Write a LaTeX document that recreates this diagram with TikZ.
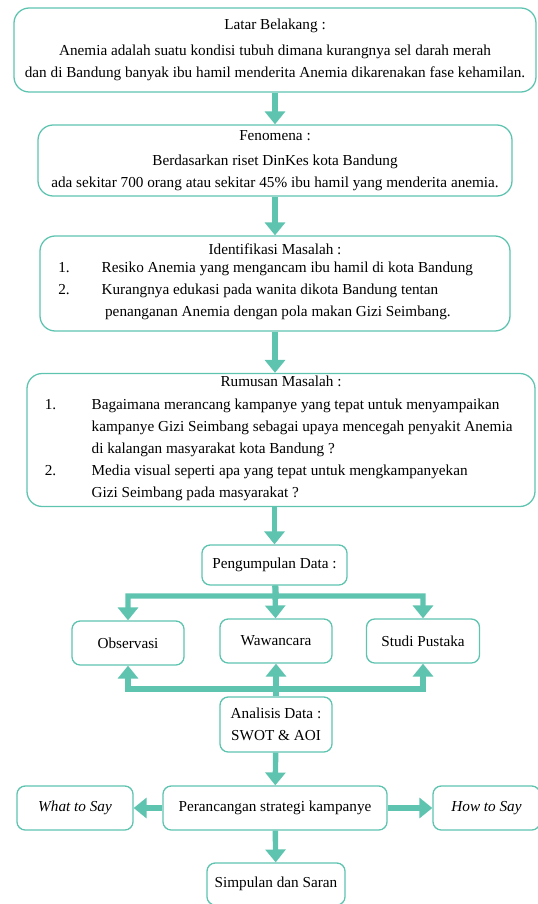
\documentclass[tikz,border=0pt]{standalone}
\usepackage{fontspec}
\setmainfont{Liberation Serif}
\usetikzlibrary{arrows.meta}
\definecolor{tosca}{RGB}{94,196,176}
\tikzset{
  box/.style={draw=tosca, line width=1.1pt, rounded corners=13pt, align=center, inner sep=0pt,
    font=\fontsize{13}{18.8}\selectfont},
  sbox/.style={box, rounded corners=7pt},
  arr/.style={draw=tosca, line width=4.6pt, -{Triangle[width=17pt,length=11pt]}},
}
\begin{document}
\begin{tikzpicture}[x=0.03cm,y=-0.03cm]
\useasboundingbox (0,0) rectangle (538,904);
\node[box, minimum width=15.66cm, minimum height=2.52cm] (v0) at (275,50) {Latar Belakang :\\[3pt]
Anemia adalah suatu kondisi tubuh dimana kurangnya sel darah merah\\
dan di Bandung banyak ibu hamil menderita Anemia dikarenakan fase kehamilan.};
\node[box, minimum width=14.22cm, minimum height=2.13cm] (v1) at (275,160.5) {Fenomena :\\[3pt]
Berdasarkan riset DinKes kota Bandung\\
ada sekitar 700 orang atau sekitar 45\% ibu hamil yang menderita anemia.};
\node[box, minimum width=14.1cm, minimum height=2.85cm] (v2) at (275,283.5) {Identifikasi Masalah :\\[1pt]
\begin{tabular}{@{}p{37pt}@{}l@{}}
1. & Resiko Anemia yang mengancam ibu hamil di kota Bandung\\
2. & Kurangnya edukasi pada wanita dikota Bandung tentan\\
 & \hspace{3pt}penanganan Anemia dengan pola makan Gizi Seimbang.
\end{tabular}\hspace*{16pt}};
\node[box, minimum width=15.24cm, minimum height=3.99cm] (v3) at (281,440) {Rumusan Masalah :\\[6pt]
\begin{tabular}{@{}p{40pt}@{}l@{}}
1. & Bagaimana merancang kampanye yang tepat untuk menyampaikan\\
 & kampanye Gizi Seimbang sebagai upaya mencegah penyakit Anemia\\
 & di kalangan masyarakat kota Bandung ?\\
2. & Media visual seperti apa yang tepat untuk mengkampanyekan\\
 & Gizi Seimbang pada masyarakat ?
\end{tabular}\hspace*{4pt}};
\node[sbox, minimum width=4.35cm, minimum height=1.2cm] (v4) at (274.5,565) {Pengumpulan Data :};
\node[sbox, minimum width=3.36cm, minimum height=1.32cm] (v5) at (128,643) {Observasi};
\node[sbox, minimum width=3.36cm, minimum height=1.32cm] (v6) at (276,641) {Wawancara};
\node[sbox, minimum width=3.39cm, minimum height=1.32cm] (v7) at (423,641) {Studi Pustaka};
\node[sbox, minimum width=3.36cm, minimum height=1.65cm] (v8) at (276,724.5) {Analisis Data :\\SWOT \& AOI};
\node[sbox, minimum width=6.72cm, minimum height=1.32cm] (v9) at (275,808) {Perancangan strategi kampanye};
\node[sbox, minimum width=3.48cm, minimum height=1.32cm] (v10) at (75,808) {\itshape What to Say};
\node[sbox, minimum width=3.21cm, minimum height=1.32cm] (v11) at (486.5,808) {\itshape How to Say};
\node[sbox, minimum width=4.14cm, minimum height=1.26cm] (v12) at (276,884) {Simpulan dan Saran};
\coordinate (c0) at (276,596);
\coordinate (c1) at (276,689);
\draw [arr] (v0) -- (v1);
\draw [arr] (v1) -- (v2);
\draw [arr] (v2) -- (v3.north -| v2);
\draw [arr] (v3.south -| v4) -- (v4);
\draw [arr] (v4) -- (c0) -| (v5);
\draw [arr] (v4) -- (c0) -| (v7);
\draw [arr] (v4) -- (v6);
\draw [arr] (v8) -- (c1) -| (v5);
\draw [arr] (v8) -- (c1) -| (v7);
\draw [arr] (v8) -- (v6);
\draw [arr] (v8) -- (v9);
\draw [arr] (v9) -- (v10);
\draw [arr] (v9) -- (v11);
\draw [arr] (v9) -- (v12);
\end{tikzpicture}
\end{document}
